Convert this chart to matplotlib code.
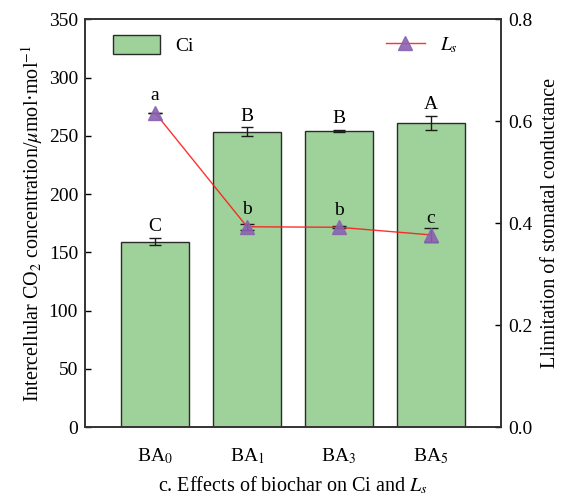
import numpy as np
import matplotlib
matplotlib.use("Agg")
import matplotlib.pyplot as plt

plt.rcParams['font.family'] = ['Liberation Serif', 'DejaVu Serif']
plt.rcParams['mathtext.fontset'] = 'stix'
plt.rcParams['font.size'] = 14

# data
groups = ['BA$_0$', 'BA$_1$', 'BA$_3$', 'BA$_5$']
ci = [159.2, 253.7, 254.3, 260.9]
ci_err = [3.0, 3.5, 1.0, 6.0]
ci_letters = ['C', 'B', 'B', 'A']
ls = [0.617, 0.393, 0.392, 0.377]
ls_err = [0.0, 0.006, 0.002, 0.013]
ls_letters = ['a', 'b', 'b', 'c']

x = np.arange(len(groups))

fig = plt.figure(figsize=(5.63, 4.96), dpi=100)
ax = fig.add_axes([0.151, 0.139, 0.739, 0.822])
ax2 = ax.twinx()

ax.bar(x, ci, width=0.74, color='#9fd19a', edgecolor='#2b2b2b',
       linewidth=1.0, label='Ci', zorder=2)
ax.errorbar(x, ci, yerr=ci_err, fmt='none', ecolor='#1a1a1a',
            elinewidth=1.0, capsize=4, capthick=1.0, zorder=3)
for xi, v, e, t in zip(x, ci, ci_err, ci_letters):
    ax.annotate(t, (xi, v + e), xytext=(0, 2), textcoords='offset points',
                ha='center', va='bottom', fontsize=14)

ax2.errorbar(x, ls, yerr=ls_err, fmt='none', ecolor='#1a1a1a',
             elinewidth=1.0, capsize=5, capthick=1.0, zorder=3)
ax2.plot(x, ls, color='#ff1a1a', linewidth=1.0, marker='^', markersize=10,
         markerfacecolor='#8a62b0', markeredgecolor='#8a62b0', alpha=0.9,
         label='$L_s$', zorder=4)
for xi, v, t in zip(x, ls, ls_letters):
    ax2.annotate(t, (xi, v), xytext=(0, 6), textcoords='offset points',
                 ha='center', va='bottom', fontsize=14)

ax.set_xlim(-0.76, 3.76)
ax.set_ylim(0, 350)
ax2.set_ylim(0, 0.8)
ax.set_yticks(np.arange(0, 351, 50))
ax2.set_yticks([0.0, 0.2, 0.4, 0.6, 0.8])
ax2.set_yticklabels(['0.0', '0.2', '0.4', '0.6', '0.8'])
ax.set_xticks(x)
ax.set_xticklabels(groups, fontsize=14)

ax.tick_params(axis='both', direction='in', length=4, width=1, labelsize=14, pad=5)
ax.tick_params(axis='x', pad=14)
ax2.tick_params(axis='y', direction='in', length=4, width=1, labelsize=14, pad=5)
for a in (ax, ax2):
    for s in a.spines.values():
        s.set_color('#333333')
        s.set_linewidth(1.2)

ax.set_ylabel('Intercellular CO$_2$ concentration/$\\mu$mol·mol$^{-1}$',
              fontsize=14.5, labelpad=3)
ax2.set_ylabel('Llimitation of stomatal conductance', fontsize=14.5, labelpad=6)
ax.set_xlabel('c. Effects of biochar on Ci and $L_s$', fontsize=14.5, labelpad=6)

ax.legend(loc='upper left', frameon=False, fontsize=14,
          handlelength=2.4, handleheight=1.1, borderaxespad=0.4,
          bbox_to_anchor=(0.03, 1.0))
ax2.legend(loc='upper right', frameon=False, fontsize=14,
           handlelength=2.0, borderaxespad=0.4,
           bbox_to_anchor=(0.935, 1.0))

fig.savefig('out.png', dpi=100)
